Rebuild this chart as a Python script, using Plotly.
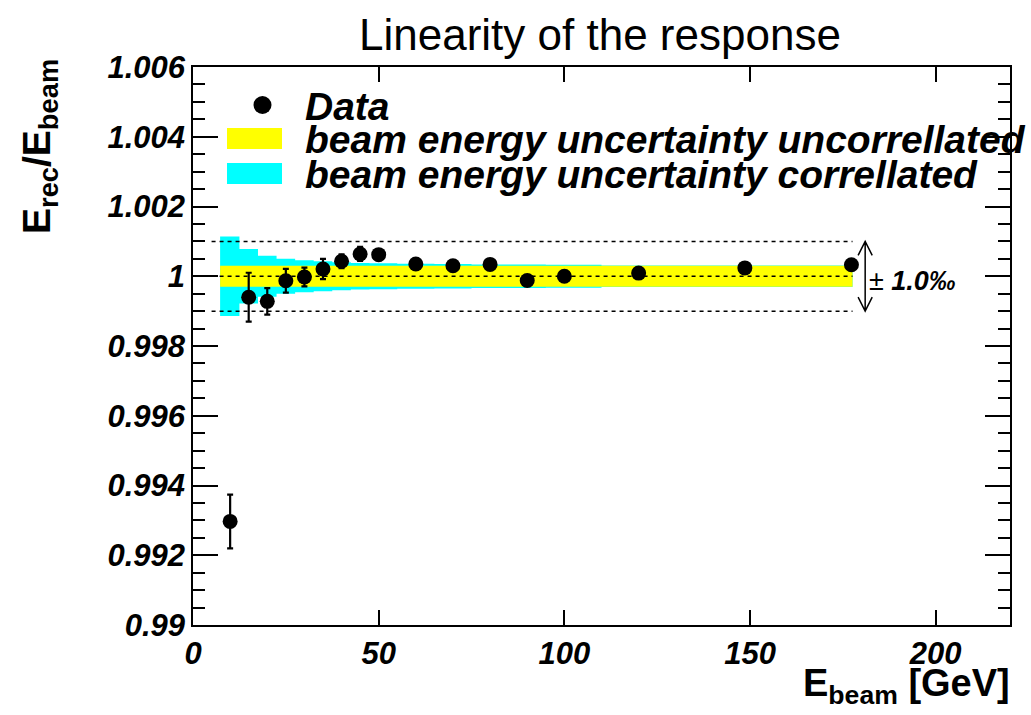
import plotly.graph_objects as go

# ---------------- data ----------------
energy = [10, 15, 20, 25, 30, 35, 40, 45, 50, 60, 70, 80, 90, 100, 120, 148.6, 177.3]
ratio = [0.99297, 0.99940, 0.99928, 0.99987, 0.99998, 1.00021, 1.00043, 1.00064, 1.00062,
         1.00035, 1.00030, 1.00034, 0.99988, 1.00000, 1.00009, 1.00024, 1.00033]
ratio_err = [0.00077, 0.00070, 0.00038, 0.00034, 0.00027, 0.00029, 0.00020, 0.00020, 0.00015,
             0.00012, 0.00012, 0.00012, 0.00012, 0.00012, 0.00012, 0.00012, 0.00012]
# half widths of the beam-energy uncertainty bands (per energy bin)
corr_unc = [0.00114, 0.00078, 0.00059, 0.00050, 0.00046, 0.00043, 0.00040, 0.00038, 0.00037,
            0.00036, 0.00035, 0.00034, 0.00034, 0.00033, 0.00031, 0.00031, 0.00031]
uncorr_unc = [0.00030] * len(energy)
band_x_min = 7.3
band_x_max = 177.6

ref_level = 1.0
ref_tol = 0.001
ref_x_min = 5.0
ref_x_max = 177.6
arrow_x = 181.0

x_ticks = [0, 50, 100, 150, 200]
y_ticks = [0.99, 0.992, 0.994, 0.996, 0.998, 1.0, 1.002, 1.004, 1.006]
y_tick_text = ["0.99", "0.992", "0.994", "0.996", "0.998", "1", "1.002", "1.004", "1.006"]

FONT = "Liberation Sans, Arial, sans-serif"

# bin edges at midpoints between energies
edges = [band_x_min] + [(energy[i] + energy[i + 1]) / 2 for i in range(len(energy) - 1)] + [band_x_max]


def step_band(half):
    xs, ys = [], []
    for i, h in enumerate(half):
        xs += [edges[i], edges[i + 1]]
        ys += [ref_level + h, ref_level + h]
    xb, yb = [], []
    for i, h in reversed(list(enumerate(half))):
        xb += [edges[i + 1], edges[i]]
        yb += [ref_level - h, ref_level - h]
    return xs + xb + [xs[0]], ys + yb + [ys[0]]


fig = go.Figure()

cx, cy = step_band(corr_unc)
fig.add_trace(go.Scatter(x=cx, y=cy, fill="toself", fillcolor="#00FFFF", mode="none",
                         showlegend=False, hoverinfo="skip"))
ux, uy = step_band(uncorr_unc)
fig.add_trace(go.Scatter(x=ux, y=uy, fill="toself", fillcolor="#FFFF00", mode="none",
                         showlegend=False, hoverinfo="skip"))

# reference dashed lines
for lvl in [ref_level - ref_tol, ref_level, ref_level + ref_tol]:
    fig.add_trace(go.Scatter(x=[ref_x_min, ref_x_max], y=[lvl, lvl], mode="lines",
                             line=dict(color="black", width=1.5, dash="4px,4px"),
                             showlegend=False, hoverinfo="skip"))

# data
fig.add_trace(go.Scatter(x=energy, y=ratio, mode="markers",
                         marker=dict(color="black", size=15),
                         error_y=dict(type="data", array=ratio_err, color="black", thickness=2.2, width=3),
                         showlegend=False))

# double arrow for +-1 permille
wing_x = 1.9
wing_y = 0.0004
lo = ref_level - ref_tol
hi = ref_level + ref_tol
arrow_path = (f"M {arrow_x} {lo} L {arrow_x} {hi} "
              f"M {arrow_x - wing_x} {hi - wing_y} L {arrow_x} {hi} L {arrow_x + wing_x} {hi - wing_y} "
              f"M {arrow_x - wing_x} {lo + wing_y} L {arrow_x} {lo} L {arrow_x + wing_x} {lo + wing_y}")
fig.add_shape(type="path", path=arrow_path, xref="x", yref="y",
              line=dict(color="black", width=1.5))


# ------------- helpers for pixel placement -------------
def px(xp):
    return (xp - 193) / 817


def py(yp):
    return (625 - yp) / 558


fig.add_annotation(x=px(867), y=py(281), xref="paper", yref="paper",
                   text="± <b><i>1.0‰</i></b>", showarrow=False, xanchor="left", yanchor="middle",
                   font=dict(family=FONT, size=27, color="black"))

# ------------- legend (drawn manually) -------------
fig.add_shape(type="circle", xref="paper", yref="paper",
              x0=px(253.5), x1=px(271.5), y0=py(114), y1=py(96),
              fillcolor="black", line=dict(color="black", width=0))
fig.add_shape(type="rect", xref="paper", yref="paper",
              x0=px(227), x1=px(282), y0=py(149), y1=py(128),
              fillcolor="#FFFF00", line=dict(width=0))
fig.add_shape(type="rect", xref="paper", yref="paper",
              x0=px(227), x1=px(282), y0=py(184), y1=py(163),
              fillcolor="#00FFFF", line=dict(width=0))
legend_texts = ["Data", "beam energy uncertainty uncorrellated", "beam energy uncertainty correllated"]
legend_y = [106, 140, 174]
for t, yv in zip(legend_texts, legend_y):
    fig.add_annotation(x=px(303), y=py(yv), xref="paper", yref="paper", text=t,
                       showarrow=False, xanchor="left", yanchor="middle",
                       font=dict(family=FONT, size=39, color="black", weight="bold", style="italic"))

# title
fig.add_annotation(x=px(600), y=py(35), xref="paper", yref="paper",
                   text="Linearity of the response", showarrow=False,
                   xanchor="center", yanchor="middle",
                   font=dict(family=FONT, size=44, color="black"))

# axis titles
fig.add_annotation(x=px(39), y=py(147), xref="paper", yref="paper",
                   text="E<sub>rec</sub>/E<sub>beam</sub>", showarrow=False, textangle=-90,
                   xanchor="center", yanchor="middle",
                   font=dict(family=FONT, size=39, color="black", weight="bold"))
fig.add_annotation(x=px(1012), y=py(686), xref="paper", yref="paper",
                   text="E<sub>beam</sub> [GeV]", showarrow=False,
                   xanchor="right", yanchor="middle",
                   font=dict(family=FONT, size=38, color="black", weight="bold"))

tickfont = dict(family=FONT, size=31, color="black", weight="bold", style="italic")

fig.update_xaxes(range=[0, 220], tickvals=x_ticks, ticks="inside", ticklen=15, tickwidth=1.5,
                 tickcolor="black", showline=True, linecolor="black", linewidth=1.5,
                 mirror="ticks", showgrid=False, zeroline=False, tickfont=tickfont,
                 ticklabelstandoff=0)
fig.update_yaxes(range=[0.99, 1.006], tickvals=y_ticks, ticktext=y_tick_text,
                 ticks="inside", ticklen=25, tickwidth=1.5, tickcolor="black",
                 minor=dict(ticks="inside", ticklen=12, dtick=0.0005, tick0=0.99, tickcolor="black",
                            tickwidth=1.5, showgrid=False),
                 showline=True, linecolor="black", linewidth=1.5, mirror="ticks",
                 showgrid=False, zeroline=False, tickfont=tickfont)

fig.update_layout(width=1031, height=715, margin=dict(l=193, r=21, t=67, b=90),
                  plot_bgcolor="white", paper_bgcolor="white", showlegend=False,
                  font=dict(family=FONT))

fig.write_html("out.html")
